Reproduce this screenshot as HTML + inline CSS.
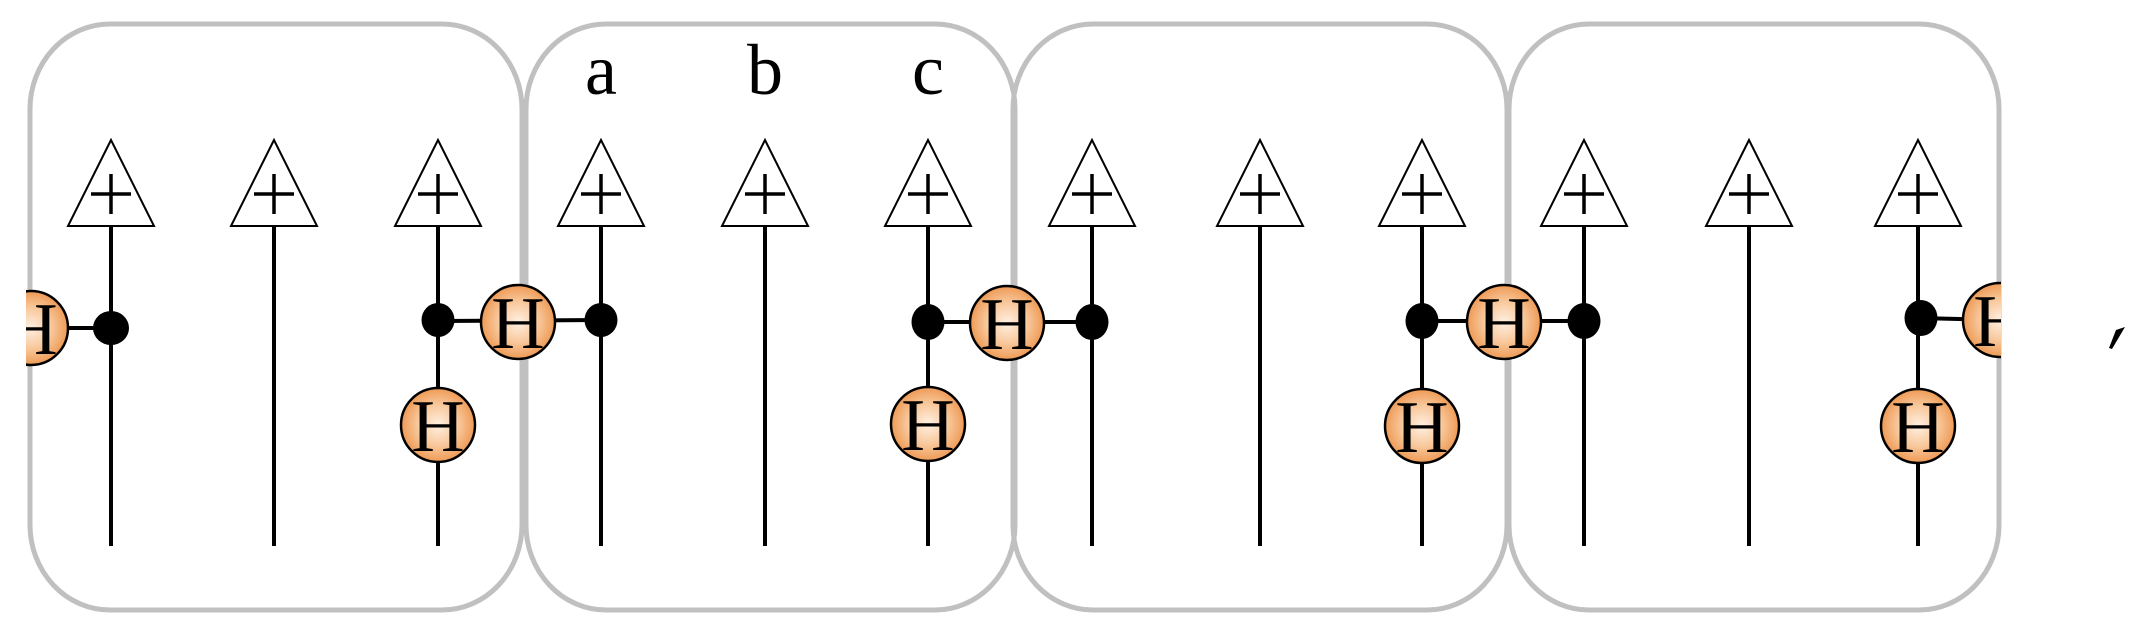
<!DOCTYPE html>
<html><head><meta charset="utf-8"><style>html,body{margin:0;padding:0;background:#fff;width:2145px;height:629px;overflow:hidden}</style></head>
<body>
<svg width="2145" height="629" viewBox="0 0 2145 629" xmlns="http://www.w3.org/2000/svg">
<defs>
<radialGradient id="g" cx="0.5" cy="0.5" r="0.5">
<stop offset="0" stop-color="#fff0e2"/><stop offset="0.55" stop-color="#f8c89c"/><stop offset="1" stop-color="#ee9a55"/>
</radialGradient>
<clipPath id="cl"><rect x="26" y="0" width="2000" height="629"/></clipPath>
<clipPath id="cr"><rect x="0" y="0" width="2001" height="629"/></clipPath>
<g id="tri"><polygon points="0,-86 -43,0 43,0" fill="#fff" stroke="#000" stroke-width="2"/><line x1="-20" y1="-32" x2="20" y2="-32" stroke="#000" stroke-width="3.5"/><line x1="0" y1="-52" x2="0" y2="-12" stroke="#000" stroke-width="3.5"/></g>
<g id="H"><circle r="37" fill="url(#g)" stroke="#000" stroke-width="2.5"/><text x="0" y="26" font-family="Liberation Serif, serif" font-size="74" text-anchor="middle">H</text></g>
</defs>
<g fill="none" stroke="#c0c0c0" stroke-width="5">
<rect x="30" y="24" width="492" height="586" rx="80" ry="85"/>
<rect x="526" y="24" width="489" height="586" rx="80" ry="85"/>
<rect x="1013" y="24" width="494" height="586" rx="80" ry="85"/>
<rect x="1509" y="24" width="490" height="586" rx="80" ry="85"/>
</g>
<g stroke="#000" stroke-width="4">
<line x1="111" y1="226" x2="111" y2="546"/><line x1="274" y1="226" x2="274" y2="546"/><line x1="438" y1="226" x2="438" y2="546"/>
<line x1="601" y1="226" x2="601" y2="546"/><line x1="765" y1="226" x2="765" y2="546"/><line x1="928" y1="226" x2="928" y2="546"/>
<line x1="1092" y1="226" x2="1092" y2="546"/><line x1="1260" y1="226" x2="1260" y2="546"/><line x1="1422" y1="226" x2="1422" y2="546"/>
<line x1="1584" y1="226" x2="1584" y2="546"/><line x1="1749" y1="226" x2="1749" y2="546"/><line x1="1918" y1="226" x2="1918" y2="546"/>
<line x1="30" y1="328" x2="111" y2="328"/>
<line x1="438" y1="321" x2="601" y2="320"/>
<line x1="928" y1="322" x2="1092" y2="322"/>
<line x1="1422" y1="321" x2="1584" y2="321"/>
<line x1="1918" y1="318" x2="2000" y2="320"/>
</g>
<g>
<use href="#tri" x="111" y="226"/><use href="#tri" x="274" y="226"/><use href="#tri" x="438" y="226"/>
<use href="#tri" x="601" y="226"/><use href="#tri" x="765" y="226"/><use href="#tri" x="928" y="226"/>
<use href="#tri" x="1092" y="226"/><use href="#tri" x="1260" y="226"/><use href="#tri" x="1422" y="226"/>
<use href="#tri" x="1584" y="226"/><use href="#tri" x="1749" y="226"/><use href="#tri" x="1918" y="226"/>
</g>
<g fill="#000">
<ellipse cx="111" cy="328" rx="18" ry="17"/>
<ellipse cx="438" cy="320" rx="16.5" ry="17"/><ellipse cx="601" cy="320" rx="16.5" ry="17"/>
<ellipse cx="928" cy="322" rx="16.5" ry="18"/><ellipse cx="1092" cy="322" rx="16.5" ry="18"/>
<ellipse cx="1422" cy="321" rx="16.5" ry="18"/><ellipse cx="1584" cy="321" rx="16.5" ry="18"/>
<ellipse cx="1921" cy="318" rx="16.5" ry="18"/>
</g>
<g clip-path="url(#cl)"><use href="#H" x="31" y="328"/></g>
<use href="#H" x="518" y="322"/>
<use href="#H" x="1007" y="323"/>
<use href="#H" x="1504" y="322"/>
<g clip-path="url(#cr)"><use href="#H" x="2000" y="320"/></g>
<use href="#H" x="438" y="425"/>
<use href="#H" x="928" y="424"/>
<use href="#H" x="1422" y="426"/>
<use href="#H" x="1918" y="426"/>
<g font-family="Liberation Serif, serif" font-size="72" text-anchor="middle" fill="#000">
<text x="601" y="94">a</text><text x="765" y="94">b</text><text x="928" y="94">c</text>
</g>
<polygon points="2116,330 2125,327 2112,349 2109,348" fill="#000"/>
</svg>
</body></html>
